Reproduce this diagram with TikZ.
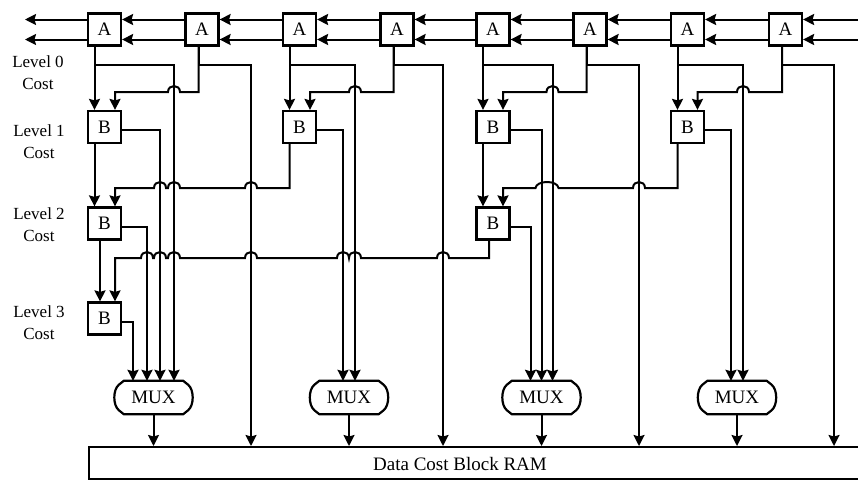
\documentclass[tikz,border=0pt]{standalone}
\usepackage{fontspec}
\setmainfont{Liberation Serif}
\usetikzlibrary{arrows.meta,calc}
\tikzset{
  box/.style={draw, line width=2.2pt, minimum width=33pt, minimum height=32pt, inner sep=0pt, fill=white, font=\fontsize{19}{20}\selectfont},
  wire/.style={line width=2pt},
  arr/.style={wire, -{Stealth[length=11pt,width=11pt,inset=1.5pt]}},
  lbl/.style={align=center, font=\fontsize{17}{22}\selectfont},
  muxn/.style={minimum width=77pt, minimum height=33pt, inner sep=0pt, font=\fontsize{19}{20}\selectfont},
}
\newcommand\hopover[2]{-- ({#1+6},#2) .. controls ({#1+6},{#2-8}) and ({#1-6},{#2-8}) .. ({#1-6},#2)}
\newcommand\hopwide[3]{-- ({#2+6},#3) .. controls ({#2+5},{#3-8}) and ({#1-5},{#3-8}) .. ({#1-6},#3)}
\newcommand\muxoutline[1]{%
  \draw[line width=2.2pt] ([xshift=9pt]#1.north west) -- ([xshift=-9pt]#1.north east)
   -- ([xshift=-4pt,yshift=-4pt]#1.north east)
   .. controls ([xshift=2pt,yshift=-9pt]#1.north east) and ([xshift=2pt,yshift=9pt]#1.south east) .. ([xshift=-4pt,yshift=4pt]#1.south east)
   -- ([xshift=-9pt]#1.south east) -- ([xshift=9pt]#1.south west)
   -- ([xshift=4pt,yshift=4pt]#1.south west)
   .. controls ([xshift=-2pt,yshift=9pt]#1.south west) and ([xshift=-2pt,yshift=-9pt]#1.north west) .. ([xshift=4pt,yshift=-4pt]#1.north west) -- cycle;}
\begin{document}
\begin{tikzpicture}[x=1pt,y=-1pt]
\useasboundingbox (0,0) rectangle (858,480);
% level labels
\node[lbl] (L0) at (38,72.5) {Level 0\\Cost};
\node[lbl] (L1) at (39,141.5) {Level 1\\Cost};
\node[lbl] (L2) at (39,225) {Level 2\\Cost};
\node[lbl] (L3) at (39,322.5) {Level 3\\Cost};
% A nodes
\foreach \i/\x in {1/104.5,2/202,3/299.5,4/397,5/493,6/590,7/687.5,8/785.5}
  \node[box] (A\i) at (\x,29.5) {A};
% B nodes
\node[box] (B11) at (104.5,127) {B};
\node[box] (B13) at (299.5,127) {B};
\node[box] (B15) at (493,127) {B};
\node[box] (B17) at (687.5,127) {B};
\node[box] (B21) at (104.5,223.5) {B};
\node[box] (B25) at (493,223.5) {B};
\node[box] (B3) at (104.5,318.5) {B};
% MUX nodes
\foreach \i/\x in {1/153.5,2/349,3/541.5,4/737}{
  \node[muxn] (M\i) at (\x,397.5) {MUX};
  \muxoutline{M\i}
}
% RAM
\node[draw, line width=2.2pt, anchor=north west, minimum width=800pt, minimum height=32pt, inner sep=0pt] (ram) at (88,446) {};
\node[font=\fontsize{19}{20}\selectfont] (ramtxt) at (460,463.5) {Data Cost Block RAM};
\coordinate (e1) at (251,446);
\coordinate (e2) at (443,446);
\coordinate (e3) at (639,446);
\coordinate (e4) at (834,446);
% top chain
\coordinate (oL1) at (25,19.5);
\coordinate (oL2) at (25,39.5);
\coordinate (iR1) at (862,19.5);
\coordinate (iR2) at (862,39.5);
\draw[arr] ([yshift=10pt]A1.west) -- (oL1);
\draw[arr] ([yshift=-10pt]A1.west) -- (oL2);
\draw[arr] (iR1) -- ([yshift=10pt]A8.east);
\draw[arr] (iR2) -- ([yshift=-10pt]A8.east);
\foreach \a/\b in {2/1,3/2,4/3,5/4,6/5,7/6,8/7}{
  \draw[arr] ([yshift=10pt]A\a.west) -- ([yshift=10pt]A\b.east);
  \draw[arr] ([yshift=-10pt]A\a.west) -- ([yshift=-10pt]A\b.east);
}
% odd A -> B (left input) and -> MUX
\draw[arr] ([xshift=-10pt]A1.south) -- ([xshift=-10pt]B11.north);
\draw[arr] ([xshift=-10pt]A3.south) -- ([xshift=-10pt]B13.north);
\draw[arr] ([xshift=-10pt]A5.south) -- ([xshift=-10pt]B15.north);
\draw[arr] ([xshift=-10pt]A7.south) -- ([xshift=-10pt]B17.north);
\draw[arr] ([xshift=-10pt]A1.south) -- ++(0,18.5) -| ([xshift=20.5pt]M1.north);
\draw[arr] ([xshift=-10pt]A3.south) -- ++(0,18.5) -| ([xshift=6pt]M2.north);
\draw[arr] ([xshift=-10pt]A5.south) -- ++(0,18.5) -| ([xshift=11pt]M3.north);
\draw[arr] ([xshift=-10pt]A7.south) -- ++(0,18.5) -| ([xshift=6pt]M4.north);
% even A -> B (right input) and -> RAM
\draw[arr] ([xshift=-3.5pt]A2.south) -- (198.5,92) \hopover{174}{92} -- (115,92) -- ([xshift=10.5pt]B11.north);
\draw[arr] ([xshift=-3.5pt]A4.south) -- (393.5,92) \hopover{355}{92} -- (310,92) -- ([xshift=10.5pt]B13.north);
\draw[arr] ([xshift=-3.5pt]A6.south) -- (586.5,92) \hopover{552.5}{92} -- (503,92) -- ([xshift=10pt]B15.north);
\draw[arr] ([xshift=-3.5pt]A8.south) -- (782,92) \hopover{743}{92} -- (697.5,92) -- ([xshift=10pt]B17.north);
\draw[arr] ([xshift=-3.5pt]A2.south) -- ++(0,18.5) -| (e1);
\draw[arr] ([xshift=-3.5pt]A4.south) -- ++(0,18.5) -| (e2);
\draw[arr] ([xshift=-3.5pt]A6.south) -- ++(0,18.5) -| (e3);
\draw[arr] ([xshift=-3.5pt]A8.south) -- ++(0,18.5) -| (e4);
% level 1 B
\draw[arr] ([xshift=-10pt]B11.south) -- ([xshift=-10pt]B21.north);
\draw[arr] ([xshift=-10pt]B15.south) -- ([xshift=-10pt]B25.north);
\draw[arr] ([xshift=-10pt]B13.south) -- (289.5,188) \hopover{251}{188} \hopover{174}{188} \hopover{160}{188} -- (115,188) -- ([xshift=10.5pt]B21.north);
\draw[arr] ([xshift=-10pt]B17.south) -- (677.5,188) \hopover{639}{188} \hopwide{541.5}{552.5}{188} -- (503,188) -- ([xshift=10pt]B25.north);
\draw[arr] ([yshift=-2.5pt]B11.east) -| ([xshift=6.5pt]M1.north);
\draw[arr] ([yshift=-2.5pt]B13.east) -| ([xshift=-6pt]M2.north);
\draw[arr] ([yshift=-2.5pt]B15.east) -| (M3.north);
\draw[arr] ([yshift=-2.5pt]B17.east) -| ([xshift=-6pt]M4.north);
% level 2 B
\draw[arr] ([xshift=-4.5pt]B21.south) -- ([xshift=-4.5pt]B3.north);
\draw[arr] ([xshift=-4pt]B25.south) -- (489,258) \hopover{443}{258} \hopover{355}{258} \hopover{343}{258} \hopover{251}{258} \hopover{174}{258} \hopover{160}{258} \hopover{147}{258} -- (115,258) -- ([xshift=10.5pt]B3.north);
\draw[arr] ([yshift=-3pt]B21.east) -| ([xshift=-6.5pt]M1.north);
\draw[arr] ([yshift=-3pt]B25.east) -| ([xshift=-11pt]M3.north);
% level 3 B
\draw[arr] ([yshift=-3.5pt]B3.east) -| ([xshift=-20.5pt]M1.north);
% MUX -> RAM
\foreach \i in {1,2,3,4}
  \draw[arr] (M\i.south) -- (ram.north -| M\i.south);
\end{tikzpicture}
\end{document}
